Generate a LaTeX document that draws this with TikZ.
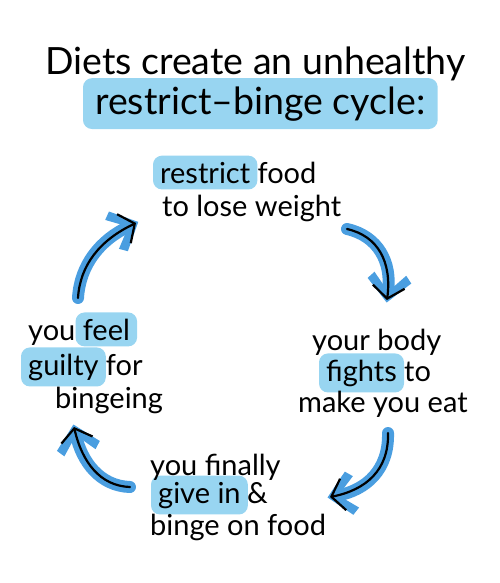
\documentclass[tikz,border=0pt]{standalone}
\usepackage{fontspec}
\setmainfont{Lato}
\usetikzlibrary{arrows.meta,fit,backgrounds,decorations.markings}
\definecolor{hl}{HTML}{86CEEE}
\definecolor{arrowblue}{HTML}{4A9EE0}
\newcommand\cyclearrow[4]{%
  \draw[flowblue] (#1) .. controls (#2) and (#3) .. (#4);
  \path[postaction={decorate}, decoration={markings, mark=at position 0.995 with {\fill[arrowblue] (3pt,0pt) -- (-19pt,-22pt) -- (-26pt,-16pt) -- (-8pt,0pt) -- (-26pt,16pt) -- (-19pt,22pt) -- cycle;}}] (#1) .. controls (#2) and (#3) .. (#4);
  \draw[flowline] (#1) .. controls (#2) and (#3) .. (#4);}
\begin{document}
\begin{tikzpicture}[x=1pt,y=-1pt,
  txt/.style={inner sep=0pt, font=\fontsize{29}{31}\selectfont, text=black, anchor=base west},
  ttl/.style={inner sep=0pt, font=\fontsize{37.5}{40}\selectfont, text=black, anchor=base west},
  hlbox/.style={fill=hl, draw=none, rounded corners=9pt, opacity=0.85, inner xsep=7pt, inner ysep=6pt},
  flowblue/.style={line width=12pt, draw=arrowblue, line cap=round, shorten >=8pt},
  flowline/.style={line width=2.2pt, draw=black, line cap=round,
     -{Straight Barb[length=12pt, width=32pt]}}]
\useasboundingbox (0,0) rectangle (500,583);

% title
\node[ttl] (t1) at (45,75) {Diets create an unhealthy};
\node[ttl] (t2) at (95,114) {restrict–binge cycle:};

% top step
\node[txt] (r1) at (160,183) {restrict};
\node[txt] (r2) at ([xshift=7pt]r1.base east) {food};
\node[txt] (r3) at (162,216) {to lose weight};

% right step
\node[txt] (b1) at (312,350) {your body};
\node[txt] (b2) at (326,381) {fights};
\node[txt] (b3) at ([xshift=7pt]b2.base east) {to};
\node[txt] (b4) at (298,412) {make you eat};

% bottom step
\node[txt] (g1) at (150,475) {you finally};
\node[txt] (g2) at (158,503) {give in};
\node[txt] (g3) at ([xshift=6pt]g2.base east) {\&};
\node[txt] (g4) at (150,535) {binge on food};

% left step
\node[txt] (f1) at (28,340) {you};
\node[txt] (f2) at ([xshift=7pt]f1.base east) {feel};
\node[txt] (f3) at (28,375) {guilty};
\node[txt] (f4) at ([xshift=7pt]f3.base east) {for};
\node[txt] (f5) at (55,408) {bingeing};

% highlights
\begin{scope}[on background layer]
  \node[hlbox, fit=(t2), inner xsep=12pt, inner ysep=8pt] (h0) {};
  \node[hlbox, fit=(r1)] (h1) {};
  \node[hlbox, fit=(b2)] (h2) {};
  \node[hlbox, fit=(g2)] (h3) {};
  \node[hlbox, fit=(f2)] (h4) {};
  \node[hlbox, fit=(f3)] (h5) {};
\end{scope}

% connectors
\coordinate (a1s) at (347,229);
\coordinate (a1e) at (387,300);
\coordinate (a2s) at (388,433);
\coordinate (a2e) at (330,497);
\coordinate (a3s) at (130,487);
\coordinate (a3e) at (74,427);
\coordinate (a4s) at (78,298);
\coordinate (a4e) at (136,223);

\cyclearrow{a1s}{378,236}{392,262}{a1e}
\cyclearrow{a2s}{389,470}{366,490}{a2e}
\cyclearrow{a3s}{100,486}{82,462}{a3e}
\cyclearrow{a4s}{80,265}{100,240}{a4e}
\end{tikzpicture}
\end{document}
